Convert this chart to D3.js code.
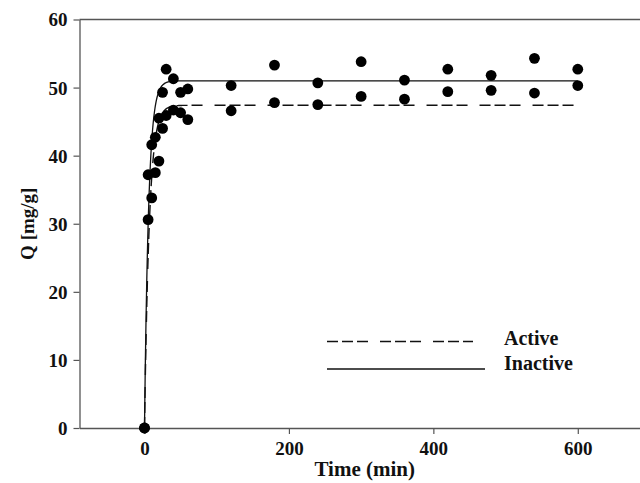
<!DOCTYPE html>
<html>
<head>
<meta charset="utf-8">
<script src="https://cdn.jsdelivr.net/npm/d3@7"></script>
<style>
  html, body { margin: 0; padding: 0; background: #fff; }
  svg { display: block; }
  text { font-family: "Liberation Serif", "Times New Roman", serif; font-weight: bold; fill: #111; }
</style>
</head>
<body>
<svg id="chart" width="640" height="483"></svg>
<script>
// Sorption kinetics: uptake Q (mg/g) versus contact time (min)
const times = [0, 5, 10, 15, 20, 25, 30, 40, 50, 60, 120, 180, 240, 300, 360, 420, 480, 540, 600];
const inactiveQ = [0, 37.2, 41.6, 42.7, 45.5, 49.3, 52.7, 51.3, 49.3, 49.8, 50.3, 53.3, 50.7, 53.8, 51.1, 52.7, 51.8, 54.3, 52.7];
const activeQ = [0, 30.6, 33.8, 37.5, 39.2, 44.0, 45.9, 46.7, 46.3, 45.3, 46.6, 47.8, 47.5, 48.7, 48.3, 49.4, 49.6, 49.2, 50.3];

// Pseudo-first-order fit parameters: Q = qe * (1 - exp(-k t))
const fitInactive = { qe: 51.0, k: 0.175 };
const fitActive = { qe: 47.4, k: 0.15 };

const xTicks = [0, 200, 400, 600];
const yTicks = [0, 10, 20, 30, 40, 50, 60];
const legendLabels = ["Active", "Inactive"];

const svg = d3.select("#chart");
const x = d3.scaleLinear().domain([-90, 700]).range([79.5, 650]);
const y = d3.scaleLinear().domain([0, 60]).range([428, 19.5]);
const axisColor = "#555";

// Frame: top border
svg.append("line")
  .attr("x1", x(-90)).attr("x2", x(700))
  .attr("y1", y(60)).attr("y2", y(60))
  .attr("stroke", axisColor).attr("stroke-width", 1.3);

// Axes
const yAxis = svg.append("g")
  .attr("transform", `translate(${x(-90)},0)`)
  .call(d3.axisLeft(y).tickValues(yTicks).tickSize(6).tickSizeOuter(0).tickPadding(6));
const xAxis = svg.append("g")
  .attr("transform", `translate(0,${y(0)})`)
  .call(d3.axisBottom(x).tickValues(xTicks).tickSize(6).tickSizeOuter(0).tickPadding(7));

[xAxis, yAxis].forEach(g => {
  g.attr("font-family", null).attr("font-size", null);
  g.select(".domain").attr("stroke", axisColor).attr("stroke-width", 1.3);
  g.selectAll(".tick line").attr("stroke", axisColor).attr("stroke-width", 1.2);
  g.selectAll(".tick text").style("font-size", "19px").attr("fill", "#111");
});
yAxis.selectAll(".tick text").attr("dy", "0.34em");
xAxis.selectAll(".tick text").attr("dy", "0.74em");

// Axis titles
svg.append("text")
  .attr("x", x(305)).attr("y", 476)
  .attr("text-anchor", "middle")
  .style("font-size", "21px")
  .text("Time (min)");
svg.append("text")
  .attr("transform", `translate(34,${y(30)}) rotate(-90)`)
  .attr("text-anchor", "middle")
  .style("font-size", "19px")
  .text("Q [mg/g]");

// Fitted kinetic curves
function fitCurve(p) {
  const pts = [];
  for (let t = 0; t <= 600; t += t < 80 ? 0.5 : 10) pts.push([t, p.qe * (1 - Math.exp(-p.k * t))]);
  return pts;
}
const line = d3.line().x(d => x(d[0])).y(d => y(d[1]));
const dashPattern = "11,4,11,4,11,12";

svg.append("path")
  .attr("d", line(fitCurve(fitActive)))
  .attr("fill", "none").attr("stroke", "#111").attr("stroke-width", 1.4)
  .attr("stroke-dasharray", dashPattern);
svg.append("path")
  .attr("d", line(fitCurve(fitInactive)))
  .attr("fill", "none").attr("stroke", "#111").attr("stroke-width", 1.3);

// Measured points
const points = times.flatMap((t, i) => [[t, activeQ[i]], [t, inactiveQ[i]]]);
svg.append("g").selectAll("circle")
  .data(points)
  .join("circle")
  .attr("cx", d => x(d[0]))
  .attr("cy", d => y(d[1]))
  .attr("r", 5.4)
  .attr("fill", "#000");

// Legend
const legend = svg.append("g");
legend.append("line")
  .attr("x1", 327).attr("x2", 473).attr("y1", 341.5).attr("y2", 341.5)
  .attr("stroke", "#111").attr("stroke-width", 1.4)
  .attr("stroke-dasharray", dashPattern);
legend.append("line")
  .attr("x1", 327).attr("x2", 485).attr("y1", 369).attr("y2", 369)
  .attr("stroke", "#111").attr("stroke-width", 1.3);
legend.selectAll("text")
  .data(legendLabels)
  .join("text")
  .attr("x", 504)
  .attr("y", (d, i) => 345 + i * 25)
  .style("font-size", "20px")
  .text(d => d);
</script>
</body>
</html>
